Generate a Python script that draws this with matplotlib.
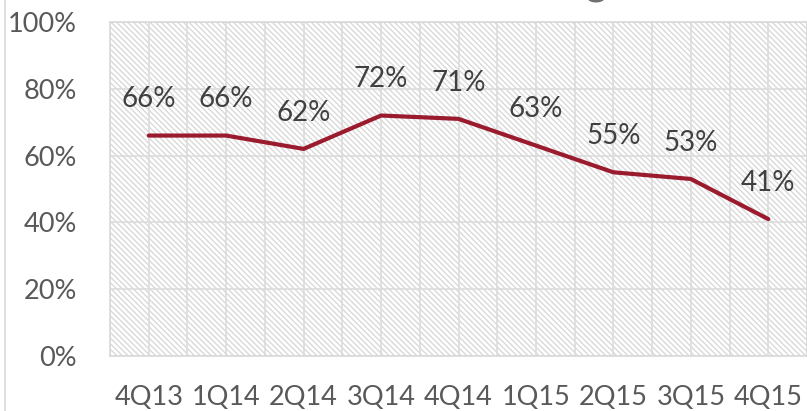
import numpy as np
import matplotlib.pyplot as plt
from matplotlib.patches import Rectangle
from matplotlib.lines import Line2D
from matplotlib.ticker import FuncFormatter, MultipleLocator

quarters = ['4Q13', '1Q14', '2Q14', '3Q14', '4Q14', '1Q15', '2Q15', '3Q15', '4Q15']
share = [66, 66, 62, 72, 71, 63, 55, 53, 41]

plt.rcParams['font.family'] = ['Lato', 'DejaVu Sans']
plt.rcParams['hatch.linewidth'] = 0.9

fig = plt.figure(figsize=(8.07, 4.11), dpi=100)
ax = fig.add_axes([110 / 807, 55 / 411, 697 / 807, 334 / 411])

x = np.arange(len(quarters))

# hatched plot area (hatch takes the edge colour)
ax.add_patch(Rectangle((0, 0), 1, 1, transform=ax.transAxes, facecolor='white',
                       edgecolor='#d6d6d6', linewidth=0, hatch='\\' * 6, zorder=0))

ax.plot(x, share, color='#9b1b2e', linewidth=3, solid_capstyle='round', zorder=3)
for xi, v in zip(x, share):
    ax.annotate(f'{v}%', (xi, v), xytext=(0, 26), textcoords='offset points',
                ha='center', va='center', fontsize=20, color='#404040', zorder=4)

ax.set_xlim(-0.5, len(quarters) - 0.5)
ax.set_ylim(0, 100)
ax.set_xticks(x)
ax.set_xticklabels(quarters)
ax.xaxis.set_minor_locator(MultipleLocator(0.5))
ax.yaxis.set_major_locator(MultipleLocator(20))
ax.yaxis.set_major_formatter(FuncFormatter(lambda v, p: f'{v:.0f}%'))

ax.grid(True, which='both', axis='x', color='#dcdcdc', linewidth=1.2, zorder=1)
ax.grid(True, which='major', axis='y', color='#dcdcdc', linewidth=1.2, zorder=1)
ax.set_axisbelow(True)
ax.tick_params(which='both', length=0)
ax.tick_params(axis='x', pad=21, labelsize=19.5, labelcolor='#595959')
ax.tick_params(axis='y', pad=24, labelsize=19.5, labelcolor='#595959')
for s in ax.spines.values():
    s.set_color('#d9d9d9')
    s.set_linewidth(1.2)

# chart frame edge and the descender of the title
fig.add_artist(Line2D([5 / 807, 5 / 807], [0, 1], color='#d9d9d9', linewidth=1.2))
fig.text(597 / 807, 1 + 5 / 411, 'g', fontsize=29, fontweight='bold', color='#707070',
         ha='center', va='baseline')

fig.savefig('out.png', dpi=100)
